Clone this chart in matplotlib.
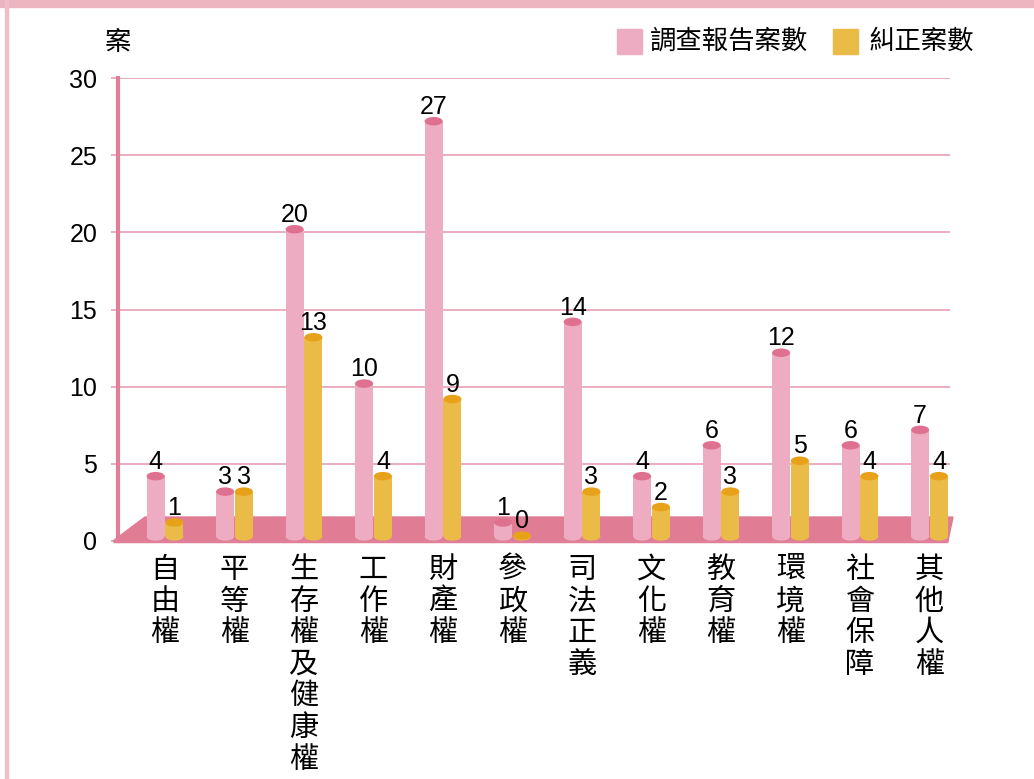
import matplotlib
matplotlib.use("Agg")
import matplotlib.pyplot as plt
from matplotlib.patches import Rectangle, Ellipse, Polygon

categories = ["自由權", "平等權", "生存權及健康權", "工作權", "財產權", "參政權",
              "司法正義", "文化權", "教育權", "環境權", "社會保障", "其他人權"]
report_counts = [4, 3, 20, 10, 27, 1, 14, 4, 6, 12, 6, 7]
correction_counts = [1, 3, 13, 4, 9, 0, 3, 2, 3, 5, 4, 4]
series_names = ["調查報告案數", "糾正案數"]
yticks = [0, 5, 10, 15, 20, 25, 30]

CJK = ["Noto Sans CJK TC", "DejaVu Sans"]
NUM = ["Liberation Sans", "Noto Sans CJK TC"]

W, H = 1034, 779
fig = plt.figure(figsize=(W / 100, H / 100), dpi=100)
fig.patch.set_facecolor("white")

# frame decorations
fig.patches.append(Rectangle((0, 1 - 7 / H), 1, 7 / H, transform=fig.transFigure,
                             color="#EDB5C0", zorder=0))
fig.patches.append(Rectangle((5 / W, 0), 3 / W, 1, transform=fig.transFigure,
                             color="#F2BCC8", zorder=0))

left, right, y0px, y30px = 118, 950, 541, 78
ax = fig.add_axes([left / W, (H - y0px) / H, (right - left) / W, (y0px - y30px) / H])
unit = 69.5
c0 = 165
ax.set_xlim(-(c0 - left) / unit, (right - c0) / unit)
ax.set_ylim(0, 30)

pink, pink_top = "#EEACC2", "#E07090"
yel, yel_top = "#EBBB48", "#E8A21A"
floor_c = "#E07D95"
grid_c = "#E8A0B4"

# grid
ax.set_yticks(yticks)
ax.set_yticklabels([str(t) for t in yticks], family=NUM, fontsize=18)
for t in yticks[1:]:
    ax.axhline(t, color=grid_c, lw=1.2, zorder=1)
ax.tick_params(axis="y", length=5, width=1.2, color=grid_c, pad=10)
ax.set_xticks([])
for s in ["top", "right", "bottom"]:
    ax.spines[s].set_visible(False)
ax.spines["left"].set_color("#E08098")
ax.spines["left"].set_linewidth(3)
ax.spines["left"].set_zorder(5)

# floor
ppu = (y0px - y30px) / 30
fh = (y0px - 517) / ppu
floor = Polygon([(-(c0 - 113) / unit, 0), (-(c0 - 145) / unit, fh),
                 ((953 - c0) / unit, fh), ((948 - c0) / unit, 0)],
                closed=True, color=floor_c, zorder=2, clip_on=False)
ax.add_patch(floor)
ax.plot([-(c0 - 113) / unit, (948 - c0) / unit], [0, 0], color="#E08098", lw=2.5,
        zorder=3, clip_on=False, solid_capstyle="butt")

bw = 0.26
eh = 0.55
base = 0.3
for i in range(len(categories)):
    for off, vals, body, top in [(-0.135, report_counts, pink, pink_top),
                                 (0.135, correction_counts, yel, yel_top)]:
        v = vals[i]
        x = i + off
        topy = max(v + 0.2, base + 0.05)
        if topy > base:
            ax.add_patch(Rectangle((x - bw / 2, base), bw, topy - base, color=body, zorder=4, lw=0))
        ax.add_patch(Ellipse((x, base), bw, eh, color=body, zorder=4, lw=0))
        ax.add_patch(Ellipse((x, topy), bw, eh, color=top, zorder=4.5, lw=0))
        ax.text(x, topy + 0.15, str(v), ha="center", va="bottom", family=NUM,
                fontsize=18, zorder=6)

# category labels (vertical)
for i, c in enumerate(categories):
    ax.text(i, -0.9, "\n".join(c), ha="center", va="top", family=CJK,
            fontsize=21, linespacing=1.07, clip_on=False)

# y unit label
fig.text(118 / W, 1 - 43 / H, "案", family=CJK, fontsize=19, ha="center", va="center")

# legend
for xs, xt, col, name in [(617, 650, pink, series_names[0]), (833, 868, yel, series_names[1])]:
    fig.patches.append(Rectangle((xs / W, 1 - 54 / H), 25 / W, 25 / H,
                                 transform=fig.transFigure, color=col))
    fig.text(xt / W, 1 - 41 / H, name, family=CJK, fontsize=19, ha="left", va="center")

fig.savefig("out.png", dpi=100)
